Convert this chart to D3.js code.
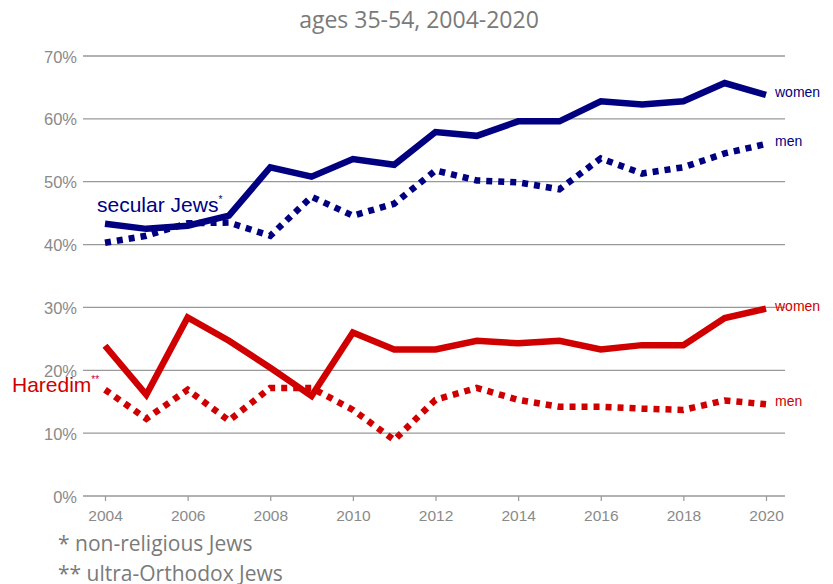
<!DOCTYPE html>
<html>
<head>
<meta charset="utf-8">
<script src="https://cdn.jsdelivr.net/npm/d3@7"></script>
<style>
  body { margin: 0; background: #fff; }
  svg { display: block; }
</style>
</head>
<body>
<svg id="chart"></svg>
<script>
const years = d3.range(2004, 2021);
const yTicks = [0, 10, 20, 30, 40, 50, 60, 70];
const xTicks = [2004, 2006, 2008, 2010, 2012, 2014, 2016, 2018, 2020];

const secularWomen = [43.3, 42.5, 43.0, 44.6, 52.3, 50.8, 53.6, 52.7, 57.9, 57.3, 59.6, 59.6, 62.8, 62.3, 62.8, 65.7, 63.8];
const secularMen = [40.3, 41.4, 43.4, 43.5, 41.4, 47.6, 44.6, 46.5, 51.8, 50.2, 49.9, 48.8, 53.7, 51.3, 52.3, 54.5, 56.0];
const haredimWomen = [23.9, 16.1, 28.4, 24.7, 20.4, 15.9, 26.0, 23.3, 23.3, 24.7, 24.3, 24.7, 23.3, 24.0, 24.0, 28.3, 29.8];
const haredimMen = [16.9, 12.3, 16.9, 12.0, 17.2, 17.2, 13.7, 8.9, 15.3, 17.2, 15.3, 14.2, 14.2, 13.9, 13.7, 15.2, 14.6];

const W = 833, H = 584;
const margin = { top: 56, right: 48, bottom: 88, left: 83 };

const svg = d3.select("#chart").attr("width", W).attr("height", H);

const x = d3.scaleLinear().domain([2004, 2020]).range([105, 766]);
const y = d3.scaleLinear().domain([0, 70]).range([H - margin.bottom, margin.top]);

const blue = "#000080";
const red = "#d00000";
const gray = "#8a8a8a";

// title
svg.append("text")
  .attr("x", 419)
  .attr("y", 28)
  .attr("text-anchor", "middle")
  .attr("font-family", "Open Sans, sans-serif")
  .attr("font-size", "23px")
  .attr("fill", "#7a7a7a")
  .text("ages 35-54, 2004-2020");

// grid + y labels
const yAxis = svg.append("g");
yTicks.forEach((t) => {
  yAxis.append("line")
    .attr("x1", margin.left)
    .attr("x2", 785)
    .attr("y1", y(t))
    .attr("y2", y(t))
    .attr("stroke", "#999")
    .attr("stroke-width", 1.3);
  yAxis.append("text")
    .attr("x", 77)
    .attr("y", y(t) + 6.5)
    .attr("text-anchor", "end")
    .attr("font-family", "Liberation Sans, Arial, sans-serif")
    .attr("font-size", "16.5px")
    .attr("fill", gray)
    .text(t + "%");
});

// x axis
const xAxis = svg.append("g").attr("transform", `translate(0,${y(0)})`)
  .call(d3.axisBottom(x).tickValues(xTicks).tickFormat(d3.format("d")).tickSize(5).tickPadding(9));
xAxis.select(".domain").remove();
xAxis.selectAll("line").attr("stroke", "#999").attr("stroke-width", 1.2);
xAxis.selectAll("text")
  .attr("font-family", "Liberation Sans, Arial, sans-serif")
  .attr("font-size", "15.5px")
  .attr("fill", gray);

const line = d3.line()
  .x((d, i) => x(years[i]))
  .y((d) => y(d));

const series = [
  { values: haredimMen, color: red, dashed: true },
  { values: haredimWomen, color: red, dashed: false },
  { values: secularMen, color: blue, dashed: true },
  { values: secularWomen, color: blue, dashed: false }
];

series.forEach((s) => {
  svg.append("path")
    .datum(s.values)
    .attr("fill", "none")
    .attr("stroke", s.color)
    .attr("stroke-width", 6.5)
    .attr("stroke-linejoin", "miter")
    .attr("stroke-dasharray", s.dashed ? "6,6" : null)
    .attr("d", line);
});

// end labels
const endLabels = [
  { text: "women", v: secularWomen[16], color: blue },
  { text: "men", v: secularMen[16], color: blue },
  { text: "women", v: haredimWomen[16], color: red },
  { text: "men", v: haredimMen[16], color: red }
];
endLabels.forEach((d) => {
  svg.append("text")
    .attr("x", 775)
    .attr("y", y(d.v) + 2)
    .attr("font-family", "Liberation Sans, Arial, sans-serif")
    .attr("font-size", "14px")
    .attr("fill", d.color)
    .text(d.text);
});

// group labels
const sec = svg.append("text")
  .attr("x", 97)
  .attr("y", 212)
  .attr("font-family", "Liberation Sans, Arial, sans-serif")
  .attr("font-size", "21px")
  .attr("fill", blue);
sec.append("tspan").text("secular Jews");
sec.append("tspan").attr("font-size", "10px").attr("dy", -9).text("*");

const har = svg.append("text")
  .attr("x", 12)
  .attr("y", 392)
  .attr("font-family", "Liberation Sans, Arial, sans-serif")
  .attr("font-size", "21px")
  .attr("fill", red);
har.append("tspan").text("Haredim");
har.append("tspan").attr("font-size", "10px").attr("dy", -9).text("**");

// footnotes
svg.append("text")
  .attr("x", 58)
  .attr("y", 551)
  .attr("font-family", "Open Sans, sans-serif")
  .attr("font-size", "21px")
  .attr("fill", "#7a7a7a")
  .text("* non-religious Jews");
svg.append("text")
  .attr("x", 58)
  .attr("y", 581)
  .attr("font-family", "Open Sans, sans-serif")
  .attr("font-size", "21px")
  .attr("fill", "#7a7a7a")
  .text("** ultra-Orthodox Jews");
</script>
</body>
</html>
